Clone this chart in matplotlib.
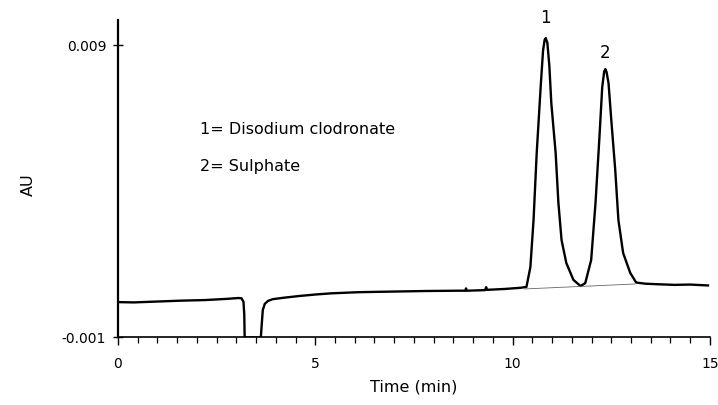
import numpy as np
import matplotlib
matplotlib.use("Agg")
import matplotlib.pyplot as plt
from matplotlib.ticker import MultipleLocator, FixedLocator, FixedFormatter

plt.rcParams['font.family'] = ['DejaVu Sans']

# chromatogram trace: time (min) and absorbance (AU)
time_min = [0.0, 0.4, 1.0, 1.6, 2.2, 2.75, 3.05, 3.13, 3.18, 3.2, 3.21,
            3.62, 3.64, 3.67, 3.72, 3.8, 3.92, 4.2, 4.6, 5.0, 5.4, 6.1,
            6.95, 7.8, 8.6, 8.8, 8.82, 8.84, 9.3, 9.33, 9.35, 9.8, 10.2,
            10.35, 10.45, 10.53, 10.61, 10.71, 10.77, 10.81, 10.84, 10.88,
            10.93, 10.98,
            11.09, 11.16, 11.24, 11.36, 11.54, 11.72, 11.84, 11.99, 12.10,
            12.20, 12.27, 12.32, 12.35, 12.38, 12.43, 12.50, 12.60, 12.68,
            12.80, 12.98,
            13.13, 13.36, 13.7, 14.1, 14.5, 14.95]
absorb = [0.00021, 0.00020, 0.00023, 0.00026, 0.00028, 0.00032, 0.00035,
          0.00034, 0.00022, -0.0002, -0.001,
          -0.001, -0.0006, -0.00006, 0.00015, 0.00025, 0.00031, 0.00036,
          0.00042, 0.00047, 0.00051, 0.00055,
          0.00057, 0.00059, 0.00060, 0.00060, 0.00068, 0.00060, 0.00062,
          0.00072, 0.00063, 0.00066, 0.00070,
          0.00073, 0.00141, 0.00302, 0.00531, 0.00756, 0.00880, 0.00918,
          0.00924, 0.00908, 0.00830, 0.00702,
          0.00531, 0.00360, 0.00233, 0.00155, 0.00097, 0.00076, 0.00086,
          0.00165, 0.00360,
          0.00586, 0.00756, 0.00810, 0.00818, 0.00808, 0.00770, 0.00644,
          0.00473, 0.00302,
          0.00189, 0.00121,
          0.00088, 0.00084, 0.00082, 0.00080, 0.00081, 0.00078]

# integration baseline under the two peaks
base_t = [10.3, 13.1]
base_au = [0.00066, 0.00083]

peak_t = [10.84, 12.35]
peak_au = [0.00924, 0.00818]
peak_lbl = ["1", "2"]
peak_off = [8, 5]

fig = plt.figure(figsize=(7.18, 4.05), dpi=100)
ax = fig.add_axes([0.1643, 0.1667, 0.8245, 0.7839])

ax.plot(time_min, absorb, color="black", lw=1.7, solid_joinstyle="round")
ax.plot(base_t, base_au, color="#666666", lw=0.6)

for t, a, s, o in zip(peak_t, peak_au, peak_lbl, peak_off):
    ax.annotate(s, (t, a), xytext=(0, o), textcoords="offset points",
                ha="center", va="bottom", fontsize=12)

ax.set_xlim(0, 15)
ax.set_ylim(-0.001, 0.00986)

ax.spines["top"].set_visible(False)
ax.spines["right"].set_visible(False)
ax.spines["left"].set_linewidth(1.6)
ax.spines["bottom"].set_linewidth(1.2)

ax.xaxis.set_major_locator(FixedLocator([0, 5, 10, 15]))
ax.xaxis.set_major_formatter(FixedFormatter(["0", "5", "10", "15"]))
ax.xaxis.set_minor_locator(MultipleLocator(0.5))
ax.tick_params(axis="x", which="major", direction="out", length=6,
               width=1, pad=8, labelsize=10)
ax.tick_params(axis="x", which="minor", direction="out", length=4, width=0.9)

ax.yaxis.set_major_locator(FixedLocator([-0.001, 0.009]))
ax.yaxis.set_major_formatter(FixedFormatter(["-0.001", "0.009"]))
ax.tick_params(axis="y", direction="inout", length=7, width=1, pad=5,
               labelsize=10)

ax.set_xlabel("Time (min)", fontsize=11.5, labelpad=6)
fig.text(28 / 718, 1 - 185 / 405, "AU", rotation=90, fontsize=11.5,
         ha="center", va="center")

ax.text(2.07, 0.00610, "1= Disodium clodronate", fontsize=11.5, va="center")
ax.text(2.07, 0.00484, "2= Sulphate", fontsize=11.5, va="center")

fig.savefig("out.png", dpi=100)
